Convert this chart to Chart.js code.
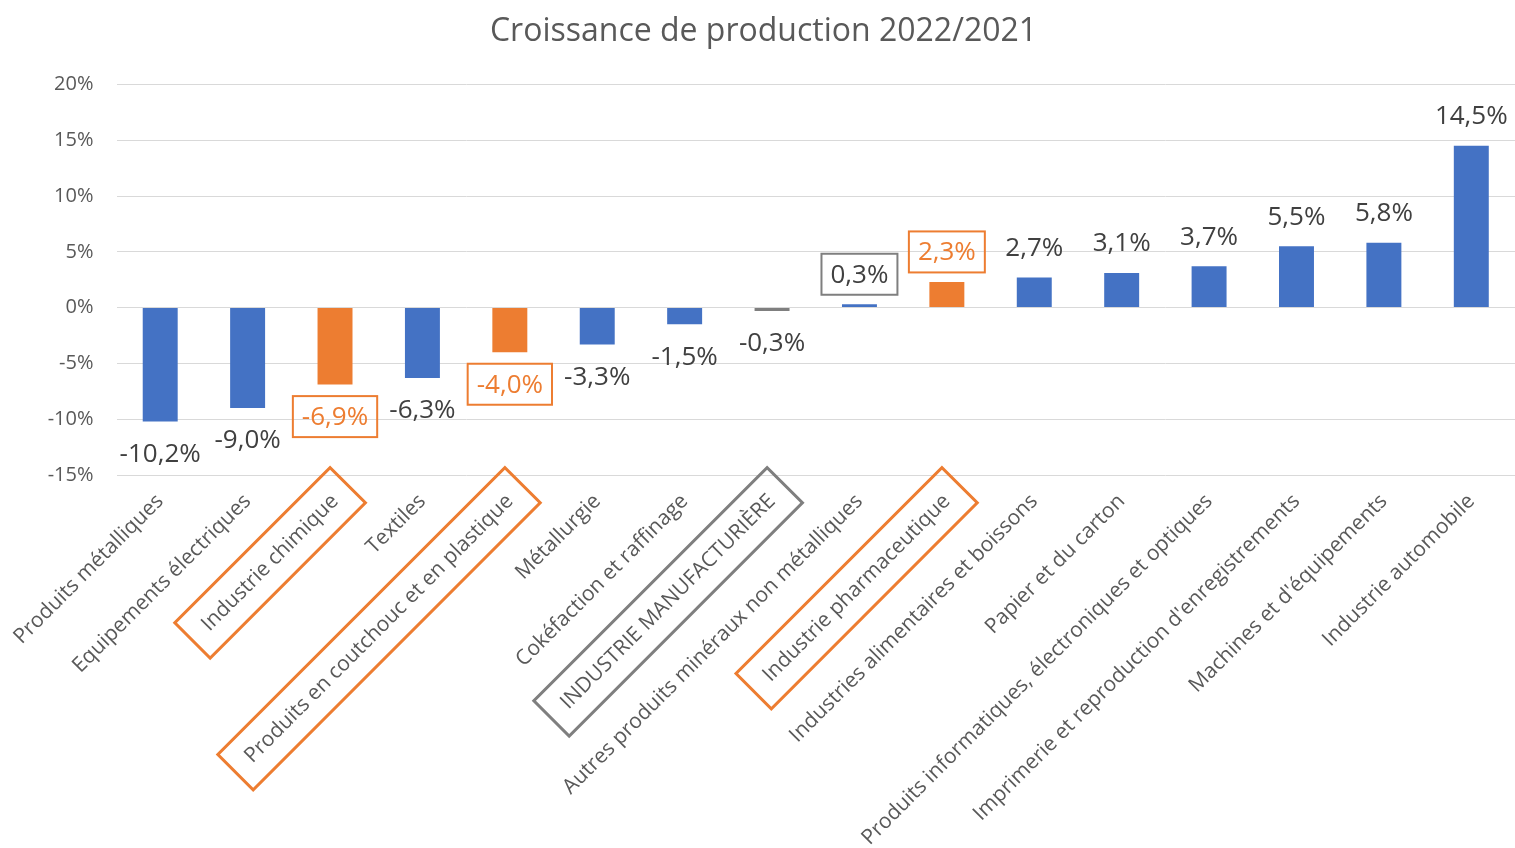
<!DOCTYPE html>
<html>
<head>
<meta charset="utf-8">
<script src="https://cdn.jsdelivr.net/npm/chart.js@4/dist/chart.umd.min.js"></script>
<style>
html, body { margin: 0; padding: 0; background: #fff; }
#wrap { width: 1515px; height: 848px; }
</style>
</head>
<body>
<div id="wrap"><canvas id="chart"></canvas></div>
<script>
var categories = [
    'Produits métalliques',
    'Equipements électriques',
    'Industrie chimique',
    'Textiles',
    'Produits en coutchouc et en plastique',
    'Métallurgie',
    'Cokéfaction et raffinage',
    'INDUSTRIE MANUFACTURIÈRE',
    'Autres produits minéraux non métalliques',
    'Industrie pharmaceutique',
    'Industries alimentaires et boissons',
    'Papier et du carton',
    'Produits informatiques, électroniques et optiques',
    "Imprimerie et reproduction d'enregistrements",
    "Machines et d'équipements",
    'Industrie automobile'
];
var growth = [-10.2, -9.0, -6.9, -6.3, -4.0, -3.3, -1.5, -0.3, 0.3, 2.3, 2.7, 3.1, 3.7, 5.5, 5.8, 14.5];
var yMin = -15;
var yMax = 20;
var yStep = 5;

// highlighted categories
var orangeCats = ['Industrie chimique', 'Produits en coutchouc et en plastique', 'Industrie pharmaceutique'];
var greyBarCats = ['INDUSTRIE MANUFACTURIÈRE'];
var greyAxisBoxCats = ['INDUSTRIE MANUFACTURIÈRE'];
var greyValueBoxCats = ['Autres produits minéraux non métalliques'];

var colors = {
    blue: '#4472C4',
    orange: '#ED7D31',
    grey: '#7F7F7F',
    text: '#595959',
    value: '#404040',
    grid: '#D9D9D9'
};
var fontFamily = "'Open Sans', 'Noto Sans', sans-serif";

var barColors = categories.map(function (c) {
    if (orangeCats.indexOf(c) >= 0) return colors.orange;
    if (greyBarCats.indexOf(c) >= 0) return colors.grey;
    return colors.blue;
});

function fmt(v) {
    return v.toFixed(1).replace('.', ',') + '%';
}

var valueLabels = {
    id: 'valueLabels',
    afterDatasetsDraw: function (chart) {
        var ctx = chart.ctx;
        var meta = chart.getDatasetMeta(0);
        ctx.save();
        ctx.font = '26px ' + fontFamily;
        ctx.textAlign = 'center';
        ctx.textBaseline = 'middle';
        meta.data.forEach(function (bar, i) {
            var v = growth[i];
            var cat = categories[i];
            var y = v >= 0 ? bar.y - 30 : bar.y + 32;
            var txt = fmt(v);
            var w = ctx.measureText(txt).width + 18;
            var h = 41;
            var boxColor = null;
            if (orangeCats.indexOf(cat) >= 0) boxColor = colors.orange;
            if (greyValueBoxCats.indexOf(cat) >= 0) boxColor = colors.grey;
            if (boxColor) {
                ctx.strokeStyle = boxColor;
                ctx.lineWidth = 2;
                ctx.strokeRect(bar.x - w / 2, y - h / 2, w, h);
            }
            ctx.fillStyle = boxColor === colors.orange ? colors.orange : colors.value;
            ctx.fillText(txt, bar.x, y + 1);
        });
        ctx.restore();
    }
};

var axisBoxes = {
    id: 'axisBoxes',
    afterDraw: function (chart) {
        var scale = chart.scales.x;
        var items = scale.getLabelItems();
        var ctx = chart.ctx;
        ctx.save();
        items.forEach(function (item, i) {
            var cat = categories[i];
            var col = null;
            if (orangeCats.indexOf(cat) >= 0) col = colors.orange;
            if (greyAxisBoxCats.indexOf(cat) >= 0) col = colors.grey;
            if (!col) return;
            ctx.font = item.font.string;
            var w = ctx.measureText(item.label).width;
            var t = item.options.translation;
            ctx.save();
            ctx.translate(t[0], t[1]);
            ctx.rotate(item.options.rotation);
            ctx.strokeStyle = col;
            ctx.lineWidth = 3;
            ctx.strokeRect(-w - 18, item.textOffset - 25, w + 36, 50);
            ctx.restore();
        });
        ctx.restore();
    }
};

var ctx = document.getElementById('chart');
window.myBar = new Chart(ctx, {
    type: 'bar',
    data: {
        labels: categories,
        datasets: [{
            data: growth,
            backgroundColor: barColors,
            borderWidth: 0,
            barPercentage: 0.4,
            categoryPercentage: 1
        }]
    },
    options: {
        responsive: true,
        maintainAspectRatio: false,
        animation: false,
        devicePixelRatio: 1,
        layout: { padding: { left: 12, right: 0, top: 0, bottom: 0 } },
        plugins: {
            legend: { display: false },
            tooltip: { enabled: false },
            title: {
                display: true,
                text: 'Croissance de production 2022/2021',
                color: colors.text,
                font: { family: fontFamily, size: 32, weight: 'normal' },
                padding: { top: 13, bottom: 33 }
            }
        },
        scales: {
            x: {
                grid: { display: false, drawTicks: false },
                border: { display: false },
                ticks: {
                    autoSkip: false,
                    minRotation: 45,
                    maxRotation: 45,
                    padding: 14,
                    color: colors.text,
                    font: { family: fontFamily, size: 21 }
                },
                afterFit: function (s) { s.height = 373; }
            },
            y: {
                min: yMin,
                max: yMax,
                grid: { color: colors.grid, drawTicks: false },
                border: { display: false },
                ticks: {
                    stepSize: yStep,
                    padding: 23,
                    color: colors.text,
                    font: { family: fontFamily, size: 20 },
                    callback: function (v) { return v + '%'; }
                },
                afterFit: function (s) { s.width = 104; }
            }
        }
    },
    plugins: [valueLabels, axisBoxes]
});
</script>
</body>
</html>
